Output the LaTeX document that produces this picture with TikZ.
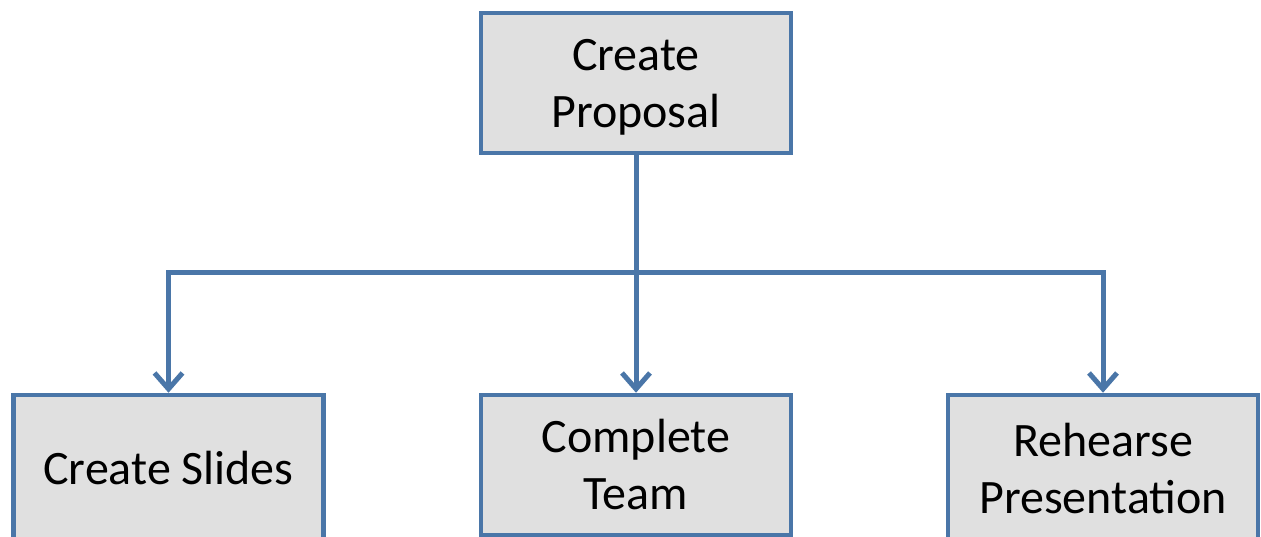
\documentclass[tikz,border=0pt]{standalone}
\usepackage{fontspec}
\setmainfont{Carlito}
\usetikzlibrary{arrows.meta}
\definecolor{boxline}{RGB}{74,118,168}
\definecolor{boxfill}{RGB}{224,224,224}
% a line whose descenders do not count for the vertical centring
\newcommand{\nodepth}[1]{\raisebox{0pt}[\height][0pt]{#1}}
\tikzset{
  task/.style={draw=boxline, fill=boxfill, line width=4.5pt, minimum width=310pt,
    minimum height=140pt, inner sep=0pt, align=center,
    font=\fontsize{48}{57}\selectfont},
  tall/.style={minimum height=146pt},
  link/.style={draw=boxline, line width=5pt},
  tip/.style={-{Straight Barb[length=16pt,width=28pt,line width=5pt]}}
}
\begin{document}
\begin{tikzpicture}[x=1pt,y=-1pt]
  \useasboundingbox (0,0) rectangle (1261,537);
  \node[task] (proposal) at (636,83) {Create\\\nodepth{Proposal}};
  \node[task, tall] (slides) at (168.5,468) {Create Slides};
  \node[task] (team) at (636,465) {Complete\\Team};
  \node[task, tall] (rehearse) at (1103,468) {Rehearse\\\nodepth{Presentation}};
  \coordinate (bus) at (636,273);
  \draw[link, tip] (proposal.south) -- (team.north);
  \draw[link, tip] (bus) -| (slides.north);
  \draw[link, tip] (bus) -| (rehearse.north);
\end{tikzpicture}
\end{document}
